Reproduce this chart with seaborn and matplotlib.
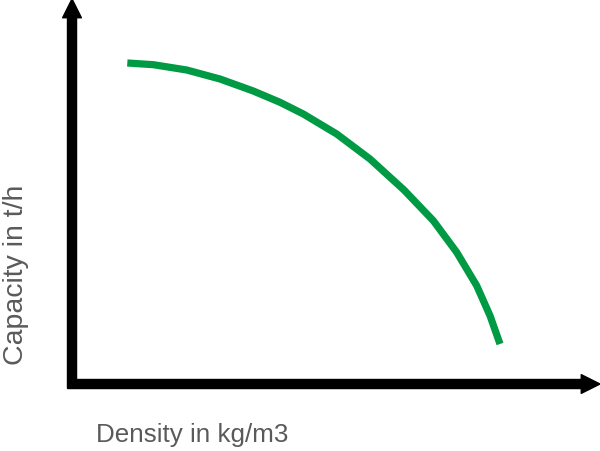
import numpy as np
import pandas as pd
import matplotlib
matplotlib.use("Agg")
import matplotlib.pyplot as plt
import seaborn as sns

# curve (density and capacity in relative units, 0..100)
density = [10.47, 15.40, 21.72, 28.03, 34.34, 39.39, 43.81, 50.13,
           56.44, 62.88, 68.43, 72.86, 76.65, 79.17, 81.06]
capacity = [83.38, 82.94, 81.56, 79.22, 76.10, 73.17, 70.13, 64.94,
            58.44, 50.39, 42.42, 34.21, 25.53, 17.74, 10.39]

x_label = "Density in kg/m3"
y_label = "Capacity in t/h"

sns.set_theme(style="white")
plt.rcParams["font.family"] = ["Liberation Sans", "DejaVu Sans"]

df = pd.DataFrame({"density": density, "capacity": capacity})

fig = plt.figure(figsize=(6.0, 4.52), dpi=100)
ax = fig.add_axes([0, 0, 1, 1])
ax.set_xlim(-13.64, 100)
ax.set_ylim(-17.4, 100)
ax.axis("off")

sns.lineplot(data=df, x="density", y="capacity", ax=ax, color="#009a44",
             linewidth=5.2, sort=False, solid_capstyle="butt",
             solid_joinstyle="round")

# axes drawn as thick arrows
arrow = dict(width=6.5, headwidth=13.5, headlength=13.5, color="black", shrink=0)
ax.annotate("", xy=(0, 100), xytext=(0, -1.05), arrowprops=arrow, annotation_clip=False)
ax.annotate("", xy=(100, 0), xytext=(-0.8, 0), arrowprops=arrow, annotation_clip=False)

ax.text(4.55, -14.8, x_label, ha="left", va="baseline", fontsize=18.7, color="#5a5a5a")
ax.text(-13.1, 28.7, y_label, ha="left", va="center", rotation=90, fontsize=20.5,
        color="#5a5a5a")

fig.savefig("out.png", dpi=100)
